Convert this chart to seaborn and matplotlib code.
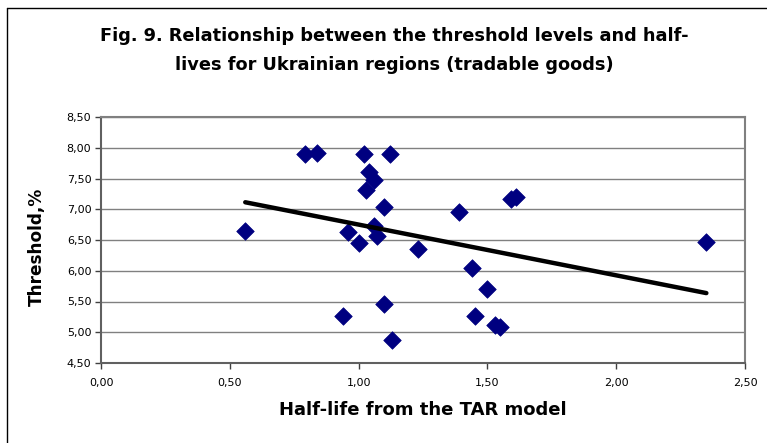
import numpy as np
import pandas as pd
import matplotlib
matplotlib.use("Agg")
import matplotlib.pyplot as plt
import seaborn as sns
from matplotlib.ticker import FuncFormatter, MultipleLocator

# Data
half_life = [0.56, 0.79, 0.84, 1.02, 1.12, 1.04, 1.06, 1.03, 1.10, 1.06,
             0.96, 1.07, 1.00, 1.23, 0.94, 1.10, 1.13, 1.39, 1.59, 1.61,
             2.35, 1.44, 1.50, 1.45, 1.53, 1.55]
threshold = [6.64, 7.90, 7.91, 7.90, 7.90, 7.61, 7.48, 7.31, 7.04, 6.72,
             6.63, 6.56, 6.45, 6.36, 5.27, 5.46, 4.88, 6.95, 7.17, 7.20,
             6.46, 6.05, 5.70, 5.27, 5.11, 5.08]

title = "Fig. 9. Relationship between the threshold levels and half-\nlives for Ukrainian regions (tradable goods)"
xlabel = "Half-life from the TAR model"
ylabel = "Threshold,%"

df = pd.DataFrame({"hl": half_life, "th": threshold})

sns.set_theme(style="white")
plt.rcParams['font.family'] = ['DejaVu Sans']
plt.rcParams['text.color'] = 'black'
plt.rcParams['axes.labelcolor'] = 'black'

fig = plt.figure(figsize=(7.67, 4.43), dpi=100)
ax = fig.add_axes([101/767, 1-363/443, 644/767, 246/443])

# trend line (linear least squares fit)
slope, intercept = np.polyfit(df["hl"], df["th"], 1)
xs = np.array([df["hl"].min(), df["hl"].max()])
sns.lineplot(x=xs, y=intercept + slope*xs, ax=ax, color="black", linewidth=3.2, zorder=4)

sns.scatterplot(data=df, x="hl", y="th", ax=ax, marker="D", s=80,
                color="#000080", edgecolor="#000080", linewidth=0.5, zorder=3)

ax.set_xlim(0, 2.5)
ax.set_ylim(4.5, 8.5)
ax.xaxis.set_major_locator(MultipleLocator(0.5))
ax.yaxis.set_major_locator(MultipleLocator(0.5))
fmt = FuncFormatter(lambda v, p: f"{v:.2f}".replace(".", ","))
ax.xaxis.set_major_formatter(fmt)
ax.yaxis.set_major_formatter(fmt)
ax.grid(axis="y", color="#808080", linewidth=1.0)
ax.set_axisbelow(True)
for side in ["top", "right"]:
    ax.spines[side].set_color("#808080")
    ax.spines[side].set_linewidth(1.5)
for side in ["left", "bottom"]:
    ax.spines[side].set_color("#606060")
    ax.spines[side].set_linewidth(1.5)
ax.tick_params(axis="both", direction="out", length=4, width=1, color="#404040",
               labelsize=8, labelcolor="black", bottom=True, left=True)
ax.tick_params(axis="x", pad=7)
ax.tick_params(axis="y", pad=3)
ax.set_xlabel(xlabel, fontsize=13, fontweight="bold", labelpad=9)
ax.set_ylabel(ylabel, fontsize=12.2, fontweight="bold")
ax.yaxis.set_label_coords(-0.085, 0.474)

fig.text(0.514, 0.938, title, ha="center", va="top", fontsize=12.8,
         fontweight="bold", linespacing=1.72)

# chart area frame (left & top visible)
fig.add_artist(plt.Line2D([7/767, 7/767], [0, 1-8/443], transform=fig.transFigure, color="black", linewidth=1))
fig.add_artist(plt.Line2D([7/767, 1], [1-8/443, 1-8/443], transform=fig.transFigure, color="black", linewidth=1))

fig.savefig("out.png", dpi=100)
